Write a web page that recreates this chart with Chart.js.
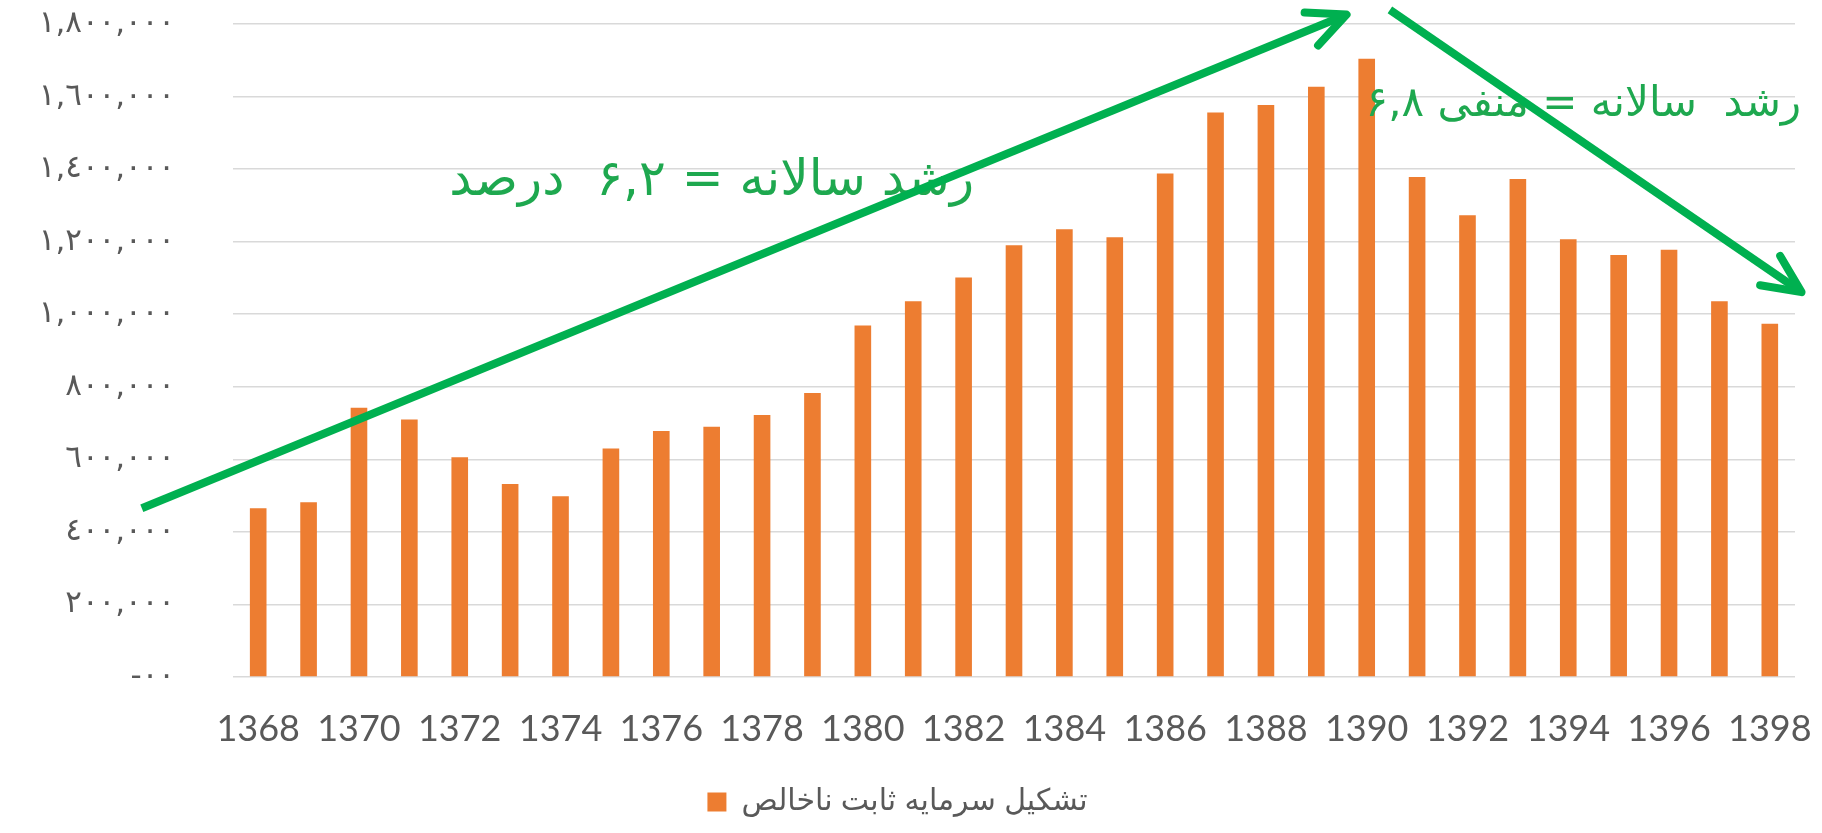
<!DOCTYPE html>
<html>
<head>
<meta charset="utf-8">
<script src="https://cdn.jsdelivr.net/npm/chart.js@4.4.0/dist/chart.umd.min.js"></script>
<style>
  body { margin: 0; background: #fff; }
</style>
</head>
<body>
<canvas id="mycanvas" width="1822" height="833"></canvas>
<script>
// years (solar hijri)
var years = ['1368','1369','1370','1371','1372','1373','1374','1375','1376','1377','1378',
             '1379','1380','1381','1382','1383','1384','1385','1386','1387','1388','1389',
             '1390','1391','1392','1393','1394','1395','1396','1397','1398'];

// gross fixed capital formation
var grossFixedCapital = [465000, 482000, 742000, 710000, 606000, 532000, 498000, 630000, 678000, 690000, 722000,
                         783000, 969000, 1036000, 1101000, 1190000, 1234000, 1212000, 1388000, 1556000, 1577000, 1627000,
                         1704000, 1378000, 1273000, 1373000, 1207000, 1163000, 1178000, 1036000, 974000];

var yTickLabels = ['-٠٠', '٢٠٠,٠٠٠', '٤٠٠,٠٠٠', '٦٠٠,٠٠٠', '٨٠٠,٠٠٠',
                   '١,٠٠٠,٠٠٠', '١,٢٠٠,٠٠٠', '١,٤٠٠,٠٠٠', '١,٦٠٠,٠٠٠', '١,٨٠٠,٠٠٠'];

var seriesName = 'تشکیل سرمایه ثابت ناخالص';

// trend arrows, [category index, value]
var arrowUpFrom = [-2.31, 465000];
var arrowUpTo = [21.6, 1826000];
var arrowDownFrom = [22.46, 1839000];
var arrowDownTo = [30.63, 1061000];

var growthUpText = 'رشد سالانه = ۶,۲  درصد';
var growthUpAt = [9.0, 1365000];
var growthDownText = 'رشد  سالانه = منفی ۶,۸';
var growthDownAt = [26.3, 1577000];

var green = '#00b050';

function drawArrow(ctx, x1, y1, x2, y2) {
  var ang = Math.atan2(y2 - y1, x2 - x1);
  var len = 42, spread = 25 * Math.PI / 180;
  ctx.lineCap = 'butt';
  ctx.beginPath();
  ctx.moveTo(x1, y1);
  ctx.lineTo(x2 - 3 * Math.cos(ang), y2 - 3 * Math.sin(ang));
  ctx.stroke();
  ctx.lineCap = 'round';
  ctx.beginPath();
  ctx.moveTo(x2 - len * Math.cos(ang - spread), y2 - len * Math.sin(ang - spread));
  ctx.lineTo(x2, y2);
  ctx.lineTo(x2 - len * Math.cos(ang + spread), y2 - len * Math.sin(ang + spread));
  ctx.stroke();
}

var trendPlugin = {
  id: 'trend',
  afterDatasetsDraw: function(chart) {
    var ctx = chart.ctx;
    var xs = chart.scales.x, ys = chart.scales.y;
    ctx.save();

    // labels
    ctx.fillStyle = '#1ea84f';
    ctx.direction = 'rtl';
    ctx.textAlign = 'center';
    ctx.textBaseline = 'middle';
    ctx.font = '50px "DejaVu Sans"';
    ctx.fillText(growthUpText, xs.getPixelForValue(growthUpAt[0]), ys.getPixelForValue(growthUpAt[1]));
    ctx.font = '42px "DejaVu Sans"';
    ctx.fillText(growthDownText, xs.getPixelForValue(growthDownAt[0]), ys.getPixelForValue(growthDownAt[1]));

    // arrows
    ctx.strokeStyle = green;
    ctx.lineWidth = 8;
    ctx.lineJoin = 'round';
    drawArrow(ctx, xs.getPixelForValue(arrowUpFrom[0]), ys.getPixelForValue(arrowUpFrom[1]),
                   xs.getPixelForValue(arrowUpTo[0]), ys.getPixelForValue(arrowUpTo[1]));
    drawArrow(ctx, xs.getPixelForValue(arrowDownFrom[0]), ys.getPixelForValue(arrowDownFrom[1]),
                   xs.getPixelForValue(arrowDownTo[0]), ys.getPixelForValue(arrowDownTo[1]));
    ctx.restore();
  }
};

var ctx = document.getElementById('mycanvas');

var chartdata = {
  labels: years,
  datasets: [
    {
      label: seriesName,
      backgroundColor: '#ed7d31',
      borderWidth: 0,
      barPercentage: 0.33,
      categoryPercentage: 1,
      data: grossFixedCapital
    }
  ]
};

var BarGraph = new Chart(ctx, {
  type: 'bar',
  data: chartdata,
  plugins: [trendPlugin],
  options: {
    responsive: false,
    animation: false,
    layout: { padding: { top: 24, right: 27, left: 0, bottom: 6 } },
    plugins: {
      tooltip: { enabled: false },
      legend: {
        position: 'bottom',
        labels: {
          boxWidth: 19,
          boxHeight: 19,
          padding: 10,
          color: '#595959',
          font: { family: '"Liberation Sans", "DejaVu Sans"', size: 30 }
        }
      }
    },
    scales: {
      x: {
        grid: { display: false, drawTicks: true, tickLength: 31, tickColor: 'rgba(0,0,0,0)' },
        border: { display: false },
        afterFit: function(scale) { scale.height = 100; },
        ticks: {
          autoSkip: false,
          maxRotation: 0,
          padding: 0,
          color: '#595959',
          font: { family: 'Lato', size: 36 },
          callback: function(value, index) {
            return index % 2 === 0 ? years[index] : '';
          }
        }
      },
      y: {
        min: 0,
        max: 1800000,
        grid: { color: '#d9d9d9', lineWidth: 1.5, drawTicks: true, tickLength: 58, tickColor: 'rgba(0,0,0,0)' },
        border: { display: false },
        afterFit: function(scale) { scale.width = 233; },
        ticks: {
          stepSize: 200000,
          padding: 0,
          color: '#595959',
          font: { family: '"DejaVu Sans"', size: 31 },
          callback: function(value, index) {
            return yTickLabels[index];
          }
        }
      }
    }
  }
});
</script>
</body>
</html>
